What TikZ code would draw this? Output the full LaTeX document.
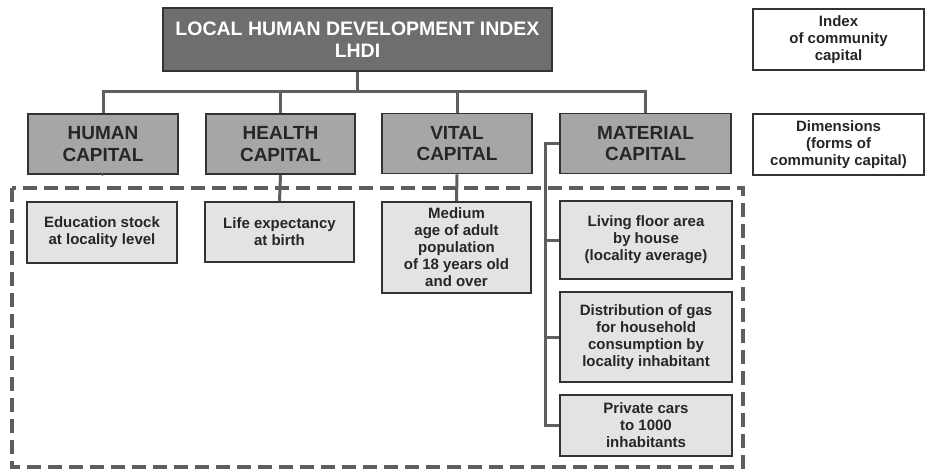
\documentclass[tikz,border=0pt]{standalone}
\usepackage{fontspec}
\setmainfont{Liberation Sans}
\begin{document}
\begin{tikzpicture}[x=1pt,y=-1pt,
  base/.style={draw=black!80, line width=1.8pt, align=center, inner sep=0pt, font=\bfseries},
  topbox/.style={base, fill=topgray, text=white, font=\bfseries\fontsize{19.5}{22}\selectfont},
  dimbox/.style={base, fill=dimgray, text=black!85, font=\bfseries\fontsize{19}{21.5}\selectfont},
  indbox/.style={base, fill=indgray, text=black!85, font=\bfseries\fontsize{15}{17}\selectfont},
  legbox/.style={base, fill=white, text=black!85, font=\bfseries\fontsize{15}{17}\selectfont},
  conn/.style={draw=linegray, line width=3pt},
  frame/.style={draw=linegray, line width=3.2pt, dash pattern=on 14pt off 7pt}]
\definecolor{topgray}{HTML}{6F6E6C}
\definecolor{dimgray}{HTML}{A6A6A6}
\definecolor{indgray}{HTML}{E3E3E3}
\definecolor{linegray}{HTML}{5E5E5E}
\useasboundingbox (0,0) rectangle (925,470);

% dashed frame
\draw[frame] (12,188) rectangle (743,467);

% nodes
\node[topbox, minimum width=389pt, minimum height=63pt] (top) at (357.5,39.5) {LOCAL HUMAN DEVELOPMENT INDEX\\LHDI};

\node[dimbox, minimum width=150pt, minimum height=60pt] (human) at (103,144) {HUMAN\\CAPITAL};
\node[dimbox, minimum width=149pt, minimum height=60pt] (health) at (280.5,144) {HEALTH\\CAPITAL};
\node[dimbox, minimum width=150pt, minimum height=60pt] (vital) at (457,143.5) {VITAL\\CAPITAL};
\node[dimbox, minimum width=171pt, minimum height=60pt] (material) at (645.5,143.5) {MATERIAL\\CAPITAL};

\node[indbox, minimum width=150pt, minimum height=61pt] (edu) at (102,232.5) {Education stock\\at locality level};
\node[indbox, minimum width=149pt, minimum height=60pt] (life) at (279.5,232) {Life expectancy\\at birth};
\node[indbox, minimum width=149pt, minimum height=91pt] (age) at (456.5,247.5) {Medium\\age of adult\\population\\of 18 years old\\and over};
\node[indbox, minimum width=172pt, minimum height=78pt] (floor) at (646,240) {Living floor area\\by house\\(locality average)};
\node[indbox, minimum width=172pt, minimum height=90pt] (gas) at (646,337) {Distribution of gas\\for household\\consumption by\\locality inhabitant};
\node[indbox, minimum width=172pt, minimum height=61pt] (cars) at (646,425.5) {Private cars\\to 1000\\inhabitants};

\node[legbox, minimum width=171pt, minimum height=61pt] (legindex) at (838.5,39.5) {Index\\of community\\capital};
\node[legbox, minimum width=171pt, minimum height=61pt] (legdim) at (838.5,144.5) {Dimensions\\(forms of\\community capital)};

% connectors
\coordinate (bus) at (357.5,92);
\draw[conn] (top.south) -- (bus);
\draw[conn] (human.north) |- (bus) -| (material.north);
\draw[conn] (health.north) -- (health.north |- bus);
\draw[conn] (vital.north) -- (vital.north |- bus);

\draw[conn] (human.south) -- (human.south -| edu.north);
\draw[conn] (health.south) -- (life.north);
\draw[conn] (vital.south) -- (age.north);

\coordinate (mtop) at (545,143.5);
\coordinate (mbot) at (545,425.5);
\draw[conn] (material.west) -- (mtop) -- (mbot) -- (cars.west);
\draw[conn] (floor.west) -- (floor.west -| mtop);
\draw[conn] (gas.west) -- (gas.west -| mtop);
\end{tikzpicture}
\end{document}
